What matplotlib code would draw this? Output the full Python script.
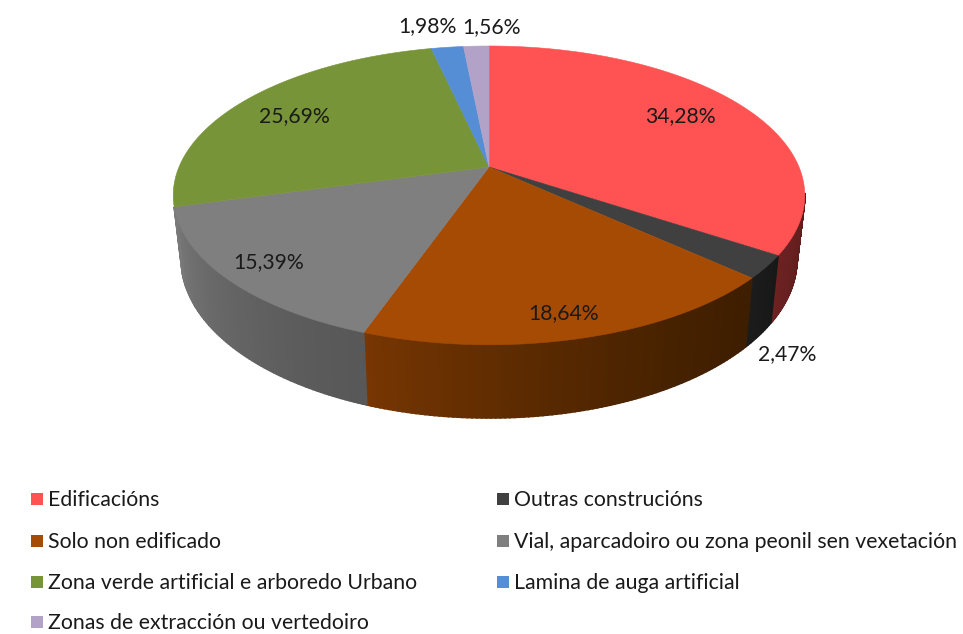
import numpy as np
import matplotlib
matplotlib.use('Agg')
import matplotlib.pyplot as plt
from matplotlib.patches import Polygon, Rectangle

labels = ['Edificacións', 'Outras construcións', 'Solo non edificado',
          'Vial, aparcadoiro ou zona peonil sen vexetación',
          'Zona verde artificial e arboredo Urbano', 'Lamina de auga artificial',
          'Zonas de extracción ou vertedoiro']
values = [34.28, 2.47, 18.64, 15.39, 25.69, 1.98, 1.56]
colors = ['#ff5353', '#404040', '#a64b03', '#7f7f7f', '#779438', '#558ed5', '#b3a2c7']
side_left = ['#6e2222', '#1c1c1c', '#773602', '#7a7a7a', '#55692a', '#3c659a', '#80748e']
side_right = ['#5e1c1c', '#181818', '#3e1e00', '#585858', '#3c4a1d', '#2a476d', '#5a5264']
label_pos = [(680, 116), (787, 354), (564, 313), (269, 262), (294, 116), (427, 26), (492, 27)]

CX, CY = 489, 167
R, A, K = 310, 144, 0.19
# lower rim of the disc, fitted by eye
BOT_X, BOT_Y, BOT_CY = 0.975, 1.063, 229


def project(theta):
    '''
    Perspective view of the top rim, theta clockwise from the top.
    '''
    u, v = np.sin(theta), np.cos(theta)
    d = 1 + K * v
    return CX + R * u / d, CY - A * v / d


def project_low(theta):
    u, v = np.sin(theta), np.cos(theta)
    d = 1 + K * v
    return CX + BOT_X * R * u / d, BOT_CY - BOT_Y * A * v / d


def blend(c1, c2, t):
    a = np.array(matplotlib.colors.to_rgb(c1))
    b = np.array(matplotlib.colors.to_rgb(c2))
    return tuple(a + (b - a) * t)


fig = plt.figure(figsize=(9.63, 6.34), dpi=100)
ax = fig.add_axes([0, 0, 1, 1])
ax.set_xlim(0, 963)
ax.set_ylim(634, 0)
ax.axis('off')

fracs = np.array(values) / sum(values)
edges = np.concatenate([[0], np.cumsum(fracs)]) * 2 * np.pi

# sides first, only what faces the viewer (first four slices)
for i in range(4):
    start = max(edges[i], np.radians(100))
    t = np.linspace(start, edges[i + 1], max(int(fracs[i] * 500), 6))
    for a, b in zip(t[:-1], t[1:]):
        x1, y1 = project(a)
        x2, y2 = project(b)
        x3, y3 = project_low(b)
        x4, y4 = project_low(a)
        s = ((a + b) / 2 - start) / (edges[i + 1] - start)
        col = blend(side_right[i], side_left[i], s ** 1.4)
        ax.add_patch(Polygon([(x1, y1), (x2, y2), (x3, y3), (x4, y4)],
                             closed=True, fc=col, ec=col, lw=1.2))

# top faces
for i in range(len(values)):
    t = np.linspace(edges[i], edges[i + 1], 200)
    x, y = project(t)
    pts = [(CX, CY)] + list(zip(x, y))
    ax.add_patch(Polygon(pts, closed=True, fc=colors[i], ec=colors[i], lw=0.4))

for (x, y), v in zip(label_pos, values):
    ax.text(x, y, f'{v:.2f}%'.replace('.', ','), ha='center', va='center',
            fontsize=15.2, family='Lato', color='#1a1a1a')

legend_x = [31, 497]
legend_y = [499, 541, 582, 622]
for i, (name, col) in enumerate(zip(labels, colors)):
    x = legend_x[i % 2]
    y = legend_y[i // 2]
    ax.add_patch(Rectangle((x, y - 6), 12, 12, fc=col, ec='none'))
    ax.text(x + 17.5, y + 1, name, ha='left', va='center', fontsize=15.3,
            family='Lato', color='#1a1a1a')

plt.savefig('out.png', dpi=100)
plt.close('all')
